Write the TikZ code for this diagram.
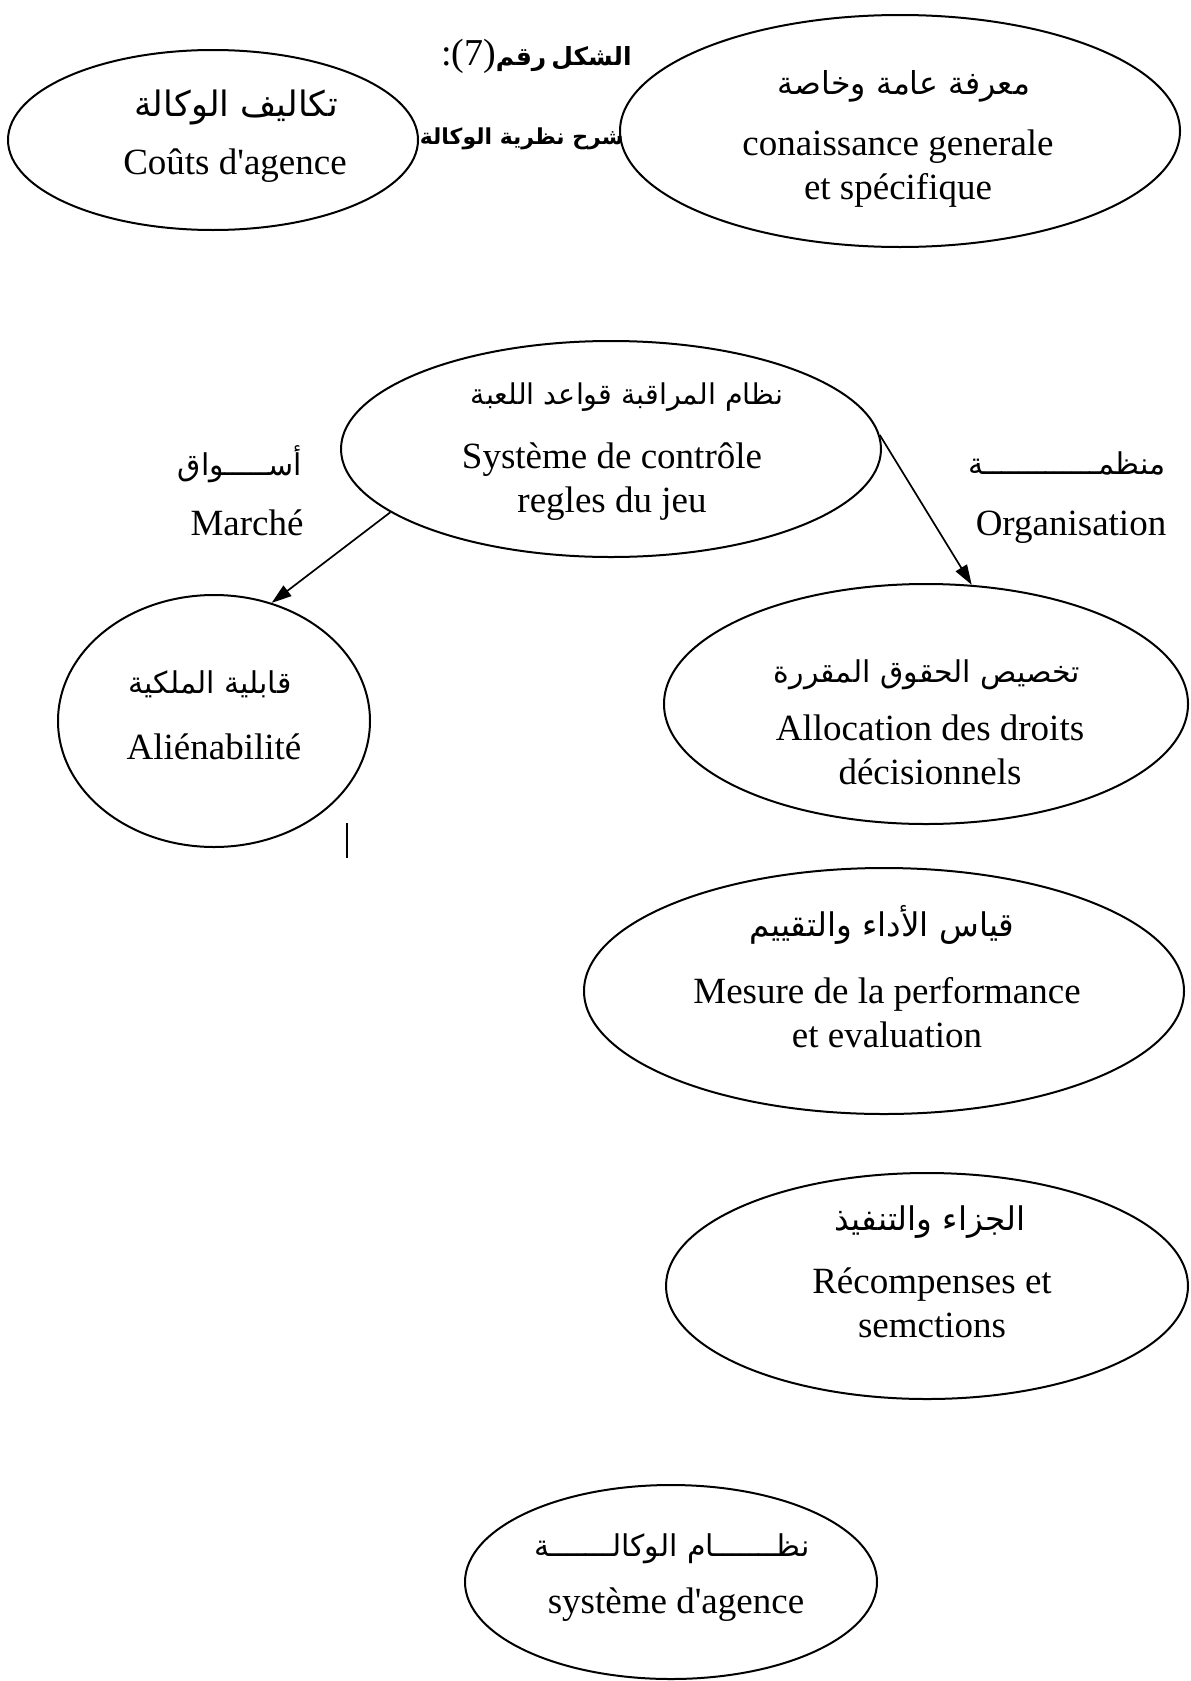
\documentclass[tikz,border=0pt]{standalone}
\usepackage{fontspec}
\setmainfont{Liberation Serif}[Ligatures=TeXOff]
\newfontfamily\arabicfont[Script=Arabic]{DejaVu Sans}
\TeXXeTstate=1
\usetikzlibrary{shapes.geometric,arrows.meta}

\begin{document}
\begin{tikzpicture}[x=0.5pt,y=-0.5pt,
  bubble/.style={draw,ellipse,line width=1pt,inner sep=0pt},
  fr/.style={font=\fontsize{18.5}{22}\selectfont,align=center,inner sep=0pt},
  ar/.style={font=\fontsize{15}{18}\selectfont\arabicfont,inner sep=0pt},
  arb/.style={font=\fontsize{11}{14}\selectfont\arabicfont\bfseries,inner sep=0pt},
  link/.style={-{Triangle[length=10pt,width=6.5pt]},line width=0.85pt}]
\useasboundingbox (0,0) rectangle (1190,1681);

% caption
\node[inner sep=0pt,anchor=east] (figno) at (632,56)
  {{\fontsize{19}{21}\selectfont :(7)}{\arabicfont\bfseries\fontsize{12.5}{16}\selectfont رقم} {\arabicfont\bfseries\fontsize{12.5}{16}\selectfont الشكل}};
\node[arb,anchor=east] (figtitle) at (624,139) {\beginR شرح نظرية الوكالة\endR};

% agency costs
\node[bubble,minimum width=205pt,minimum height=90pt] (cost) at (213,140) {};
\node[ar,font=\fontsize{17.5}{20}\selectfont\arabicfont] (costAr) at (236,107) {\beginR تكاليف الوكالة\endR};
\node[fr] (costFr) at (235,166) {Coûts d'agence};

% knowledge
\node[bubble,minimum width=280pt,minimum height=116pt] (know) at (900,131) {};
\node[ar,font=\fontsize{15.8}{19}\selectfont\arabicfont] (knowAr) at (904,86) {\beginR معرفة عامة وخاصة\endR};
\node[fr] (knowFr) at (898,169) {conaissance generale\\et spécifique};

% control system
\node[bubble,minimum width=270pt,minimum height=108pt] (ctrl) at (611,449) {};
\node[ar,font=\fontsize{14.3}{18}\selectfont\arabicfont] (ctrlAr) at (627,397) {\beginR نظام المراقبة قواعد اللعبة\endR};
\node[fr] (ctrlFr) at (612,482) {Système de contrôle\\regles du jeu};

% side labels
\node[ar] (mktAr) at (240,464) {\beginR أســـــواق\endR};
\node[fr] (mktFr) at (247,523) {Marché};
\node[ar] (orgAr) at (1067,463) {\beginR منظمـــــــــــــة\endR};
\node[fr] (orgFr) at (1071,527) {Organisation};

% alienability
\node[bubble,minimum width=156pt,minimum height=126pt] (alien) at (214,721) {};
\node[ar] (alienAr) at (210,684) {\beginR قابلية الملكية\endR};
\node[fr] (alienFr) at (214,747) {Aliénabilité};

% allocation of decision rights
\node[bubble,minimum width=262pt,minimum height=120pt] (alloc) at (926,704) {};
\node[ar] (allocAr) at (927,675) {\beginR تخصيص الحقوق المقررة\endR};
\node[fr] (allocFr) at (930,750) {Allocation des droits\\décisionnels};

% performance measurement
\node[bubble,minimum width=300pt,minimum height=123pt] (perf) at (884,991) {};
\node[ar,font=\fontsize{16.3}{19}\selectfont\arabicfont] (perfAr) at (882,925) {\beginR قياس الأداء والتقييم\endR};
\node[fr] (perfFr) at (887,1013) {Mesure de la performance\\et evaluation};

% rewards and sanctions
\node[bubble,minimum width=261pt,minimum height=113pt] (reward) at (927,1286) {};
\node[ar,font=\fontsize{16.3}{19}\selectfont\arabicfont] (rewardAr) at (930,1222) {\beginR الجزاء والتنفيذ\endR};
\node[fr] (rewardFr) at (932,1303) {Récompenses et\\semctions};

% agency system
\node[bubble,minimum width=206pt,minimum height=97pt] (agency) at (671,1582) {};
\node[ar] (agencyAr) at (672,1549) {\beginR نظـــــــام الوكالـــــــة\endR};
\node[fr] (agencyFr) at (676,1605) {système d'agence};

% connectors
\draw[link] (ctrl.196) -- (alien.64);
\draw[link] (ctrl.3) -- (alloc.69);

% short vertical stroke below the alienability bubble
\draw[line width=0.6pt] (347,823) -- (347,858);
\end{tikzpicture}
\end{document}
